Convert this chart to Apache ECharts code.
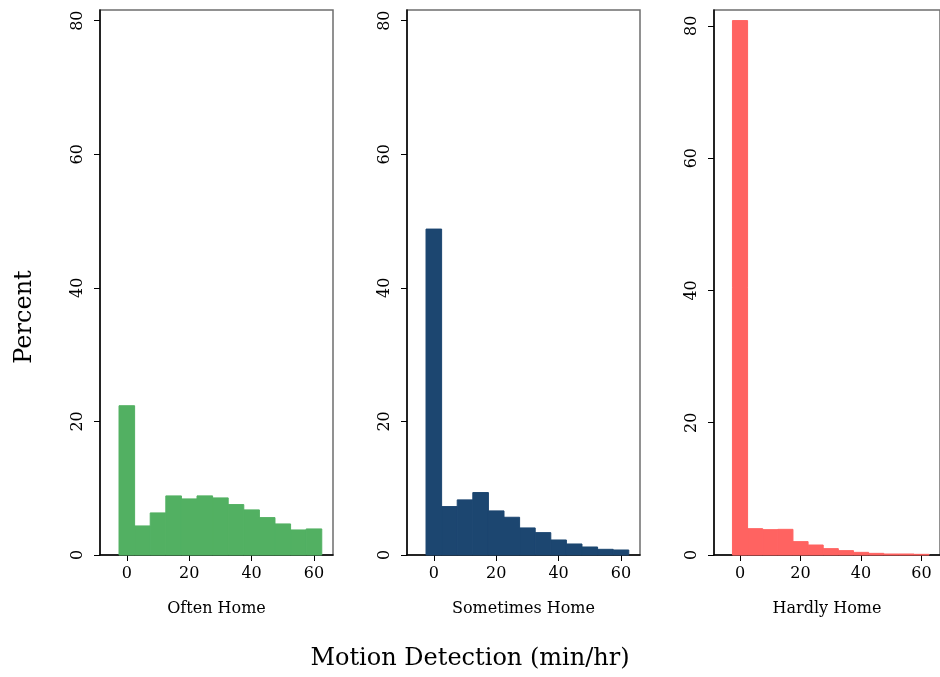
<!DOCTYPE html>
<html>
<head>
<meta charset="utf-8">
<script src="https://cdn.jsdelivr.net/npm/echarts@6/dist/echarts.min.js"></script>
<style>html,body{margin:0;padding:0;background:#fff;}#c{width:940px;height:677px;}</style>
</head>
<body>
<div id="c"></div>
<script>
// ---- data ----
const binCenters = [0, 5, 10, 15, 20, 25, 30, 35, 40, 45, 50, 55, 60];
const binWidth = 5;
const oftenHome = [22.35, 4.35, 6.3, 8.85, 8.4, 8.85, 8.55, 7.55, 6.75, 5.6, 4.65, 3.75, 3.9];
const sometimesHome = [48.8, 7.25, 8.25, 9.35, 6.6, 5.65, 4.05, 3.35, 2.25, 1.65, 1.2, 0.85, 0.75];
const hardlyHome = [80.8, 3.98, 3.83, 3.88, 2.02, 1.51, 0.96, 0.66, 0.40, 0.25, 0.15, 0.15, 0.10];
const panelNames = ['Often Home', 'Sometimes Home', 'Hardly Home'];
const xTicks = [0, 20, 40, 60];
const yTicks = [0, 20, 40, 60, 80];
const xTitle = 'Motion Detection (min/hr)';
const yTitle = 'Percent';

const FONT = '"DejaVu Serif", "Liberation Serif", serif';
const colors = ['#52b062', '#1c4670', '#ff6361'];
const seriesData = [oftenHome, sometimesHome, hardlyHome];
const gridLefts = [100, 407, 714];
const yMaxes = [81.6, 81.6, 82.4];

const grids = [], xAxes = [], yAxes = [], series = [];
for (let i = 0; i < 3; i++) {
  grids.push({left: gridLefts[i], top: 10, width: 233, height: 545, show: true,
    borderColor: '#6e6e6e', borderWidth: 1.5, backgroundColor: 'transparent', containLabel: false});
  xAxes.push({type: 'value', gridIndex: i, min: -8.6, max: 66.1,
    name: panelNames[i], nameLocation: 'middle', nameGap: 46,
    nameTextStyle: {fontFamily: FONT, fontSize: 16, color: '#000'},
    axisLine: {show: true, onZero: false, lineStyle: {color: '#000', width: 1.5}},
    axisTick: {show: true, length: 6, customValues: xTicks, lineStyle: {color: '#000', width: 1}},
    axisLabel: {customValues: xTicks, fontFamily: FONT, fontSize: 16, color: '#000', margin: 11},
    splitLine: {show: false}});
  yAxes.push({type: 'value', gridIndex: i, min: 0, max: yMaxes[i],
    axisLine: {show: true, onZero: false, lineStyle: {color: '#000', width: 1.5}},
    axisTick: {show: true, length: 6, customValues: yTicks, lineStyle: {color: '#000', width: 1}},
    axisLabel: {customValues: yTicks, rotate: 90, fontFamily: FONT, fontSize: 16, color: '#000', margin: 14},
    splitLine: {show: false}});
  const data = binCenters.map((c, k) => [c - binWidth / 2, c + binWidth / 2, seriesData[i][k]]);
  series.push({type: 'custom', xAxisIndex: i, yAxisIndex: i, data: data, silent: true, z: 1,
    renderItem: function (params, api) {
      const p0 = api.coord([api.value(0), 0]);
      const p1 = api.coord([api.value(1), api.value(2)]);
      return {type: 'rect', shape: {x: p0[0], y: p1[1], width: p1[0] - p0[0], height: p0[1] - p1[1]},
        style: {fill: colors[i], stroke: colors[i], lineWidth: 1}};
    },
    encode: {x: [0, 1], y: 2}});
}

const chart = echarts.init(document.getElementById('c'), null, {renderer: 'canvas'});
chart.setOption({
  animation: false,
  backgroundColor: '#fff',
  grid: grids, xAxis: xAxes, yAxis: yAxes, series: series,
  graphic: [
    {type: 'text', left: 'center', top: 647, style: {text: xTitle, fontFamily: FONT, fontSize: 24, fill: '#000'}},
    {type: 'text', x: 25, y: 317, rotation: Math.PI / 2, style: {text: yTitle, fontFamily: FONT, fontSize: 24, fill: '#000', textAlign: 'center', textVerticalAlign: 'middle'}}
  ]
});
</script>
</body>
</html>
